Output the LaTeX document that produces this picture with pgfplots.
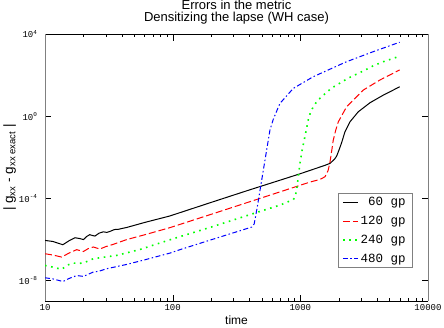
\documentclass[border=0pt]{standalone}
\usepackage{fontspec}
\setmainfont{Liberation Sans}
\setmonofont{Liberation Mono}
\usepackage{pgfplots}
\pgfplotsset{compat=1.18}

\begin{document}
\begin{tikzpicture}
\path[use as bounding box] (-45pt,-26pt) rectangle (399pt,301pt);
\begin{axis}[
  scale only axis,
  width=383pt, height=267pt,
  xmode=log, ymode=log,
  xmin=10, xmax=10000,
  ymin=1e-9, ymax=1e4,
  xtick={10,100,1000,10000},
  xticklabels={10,100,1000,10000},
  ytick={1e-8,1e-4,1,1e4},
  yticklabels={10\textsuperscript{-8},10\textsuperscript{-4},10\textsuperscript{0},10\textsuperscript{4}},
  yminorticks=false,
  tick label style={font=\ttfamily\fontsize{9}{9}\selectfont},
  yticklabel style={xshift=-4pt},
  major tick length=6.5pt,
  minor tick length=3pt,
  tick style={black},
  separate axis lines,
  x axis line style={black},
  y axis line style={gray},
  title={Errors in the metric\\Densitizing the lapse (WH case)},
  title style={align=center, font=\fontsize{13}{12.6}\selectfont, at={(axis description cs:0.5,1)}, anchor=south, yshift=0pt},
  xlabel={time},
  xlabel style={font=\fontsize{12}{12}\selectfont, yshift=2pt},
  ylabel={| g\textsubscript{xx} - g\textsubscript{xx exact} |},
  ylabel style={font=\fontsize{13.5}{14}\selectfont, at={(axis description cs:-0.092,0.5)}, anchor=center},
  legend style={at={(axis description cs:0.958,0.124)}, anchor=south east,
    draw=gray, font=\ttfamily\fontsize{12.5}{13}\selectfont,
    inner xsep=4pt, inner ysep=2pt, row sep=5pt},
  legend cell align=left,
  legend image code/.code={\draw[#1] (0pt,0pt) -- (15pt,0pt);},
]
\addplot[black, line width=1pt] coordinates {
 (10,8.91e-7) (11.5,7.94e-7) (13.8,5.50e-7) (15.5,8.71e-7) (17.2,1.20e-6)
 (18.7,1.10e-6) (20,9.77e-7) (21.2,1.38e-6) (22.4,1.70e-6) (23.5,1.55e-6)
 (24.6,1.45e-6) (26.5,2.00e-6) (28.6,2.34e-6) (30.5,2.19e-6) (32.3,2.45e-6)
 (35,3.02e-6) (37.5,3.09e-6) (40,3.39e-6) (43.6,3.80e-6) (60,6.61e-6)
 (95,1.38e-5) (200,6.31e-5) (400,2.57e-4) (692,7.59e-4) (1000,1.58e-3)
 (1300,2.75e-3) (1550,3.98e-3) (1706,5.01e-3) (1850,7.94e-3) (1923,1.12e-2)
 (2000,2.09e-2) (2104,5.01e-2) (2234,0.170) (2445,0.525) (2840,1.62)
 (3508,4.47) (4458,10.5) (6000,26.9)
};
\addlegendentry{\hphantom{1}60 gp}
\addplot[red, line width=1pt, dash pattern=on 7pt off 3pt] coordinates {
 (10,2.00e-7) (11.5,1.74e-7) (13.5,1.38e-7) (15.5,2.19e-7) (17.7,3.16e-7)
 (20,2.57e-7) (21.8,3.55e-7) (23.9,4.27e-7) (26.9,3.39e-7) (30,4.47e-7)
 (34.3,5.75e-7) (43.6,9.77e-7) (60,1.66e-6) (95,3.72e-6) (200,1.66e-5)
 (400,6.76e-5) (782,2.63e-4) (1189,6.17e-4) (1427,8.32e-4) (1560,1.12e-3)
 (1650,2.24e-3) (1706,5.62e-3) (1760,2.00e-2) (1811,6.76e-2) (1900,0.224)
 (1983,0.525) (2300,2.82) (3111,18.6) (4198,57.5) (6000,178)
};
\addlegendentry{120 gp}
\addplot[green, line width=1.6pt, dash pattern=on 1.6pt off 4.6pt] coordinates {
 (10,5.37e-8) (11.5,4.47e-8) (13.5,3.47e-8) (15,5.62e-8) (16.6,7.08e-8)
 (18.3,6.76e-8) (20,7.08e-8) (23.9,1.15e-7) (28,1.32e-7) (36.4,1.66e-7)
 (55.5,3.24e-7) (95,9.55e-7) (200,3.98e-6) (400,1.58e-5) (700,4.79e-5)
 (880,8.71e-5) (910,1.12e-4) (940,3.16e-4) (963,1.10e-3) (993,4.90e-3)
 (1030,2.00e-2) (1086,0.100) (1170,1.00) (1260,2.82) (1360,5.62)
 (1500,10.0) (1760,23.4) (2370,70.8) (3110,158) (3725,282) (4460,447) (6000,832)
};
\addlegendentry{240 gp}
\addplot[blue, line width=1pt, dash pattern=on 5pt off 2.5pt on 1.5pt off 2.5pt] coordinates {
 (10,1.35e-8) (11.5,1.20e-8) (13.8,8.91e-9) (15.5,1.26e-8) (17.7,1.74e-8)
 (20,1.58e-8) (23.9,2.57e-8) (26.5,2.82e-8) (30.4,3.72e-8) (43.6,6.03e-8)
 (60,1.00e-7) (95,2.14e-7) (114,3.16e-7) (200,9.55e-7) (416,3.98e-6)
 (435,5.62e-6) (460,3.80e-5) (513,2.34e-3) (578,0.209) (614,0.708)
 (692,4.17) (880,22.4) (1262,83.2) (2300,447) (3725,1380) (6000,3980)
};
\addlegendentry{480 gp}
\end{axis}
\end{tikzpicture}
\end{document}
